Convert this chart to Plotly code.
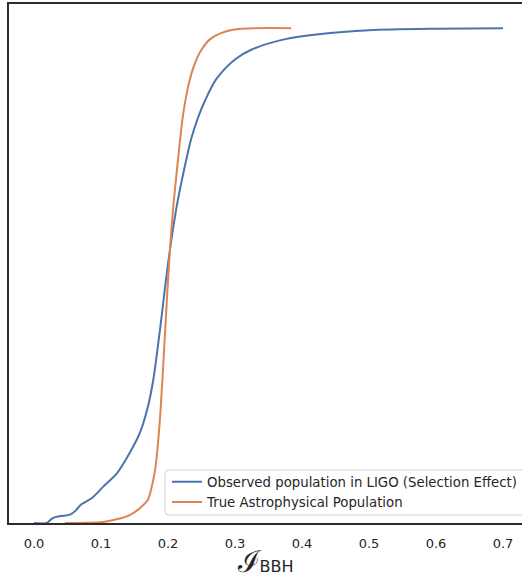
import plotly.graph_objects as go

# Observed population (selection effect) cumulative distribution
obs_x = [0.0, 0.019, 0.028, 0.040, 0.054, 0.063, 0.069, 0.087, 0.103, 0.124, 0.143,
         0.158, 0.170, 0.178, 0.188, 0.197, 0.203, 0.213, 0.225, 0.235, 0.245, 0.255,
         0.272, 0.300, 0.325, 0.375, 0.425, 0.5, 0.6, 0.7]
obs_y = [0.0, 0.0, 0.010, 0.014, 0.017, 0.026, 0.036, 0.051, 0.073, 0.101, 0.142,
         0.182, 0.235, 0.289, 0.39, 0.492, 0.553, 0.64, 0.72, 0.778, 0.82, 0.853,
         0.897, 0.937, 0.957, 0.978, 0.988, 0.996, 0.999, 1.0]

# True astrophysical population cumulative distribution
true_x = [0.046, 0.080, 0.103, 0.125, 0.143, 0.158, 0.170, 0.176, 0.181, 0.185, 0.189,
          0.194, 0.200, 0.207, 0.215, 0.222, 0.229, 0.237, 0.248, 0.263, 0.285, 0.310, 0.384]
true_y = [0.0, 0.0005, 0.002, 0.008, 0.016, 0.030, 0.047, 0.075, 0.11, 0.16, 0.23,
          0.345, 0.49, 0.625, 0.735, 0.82, 0.875, 0.917, 0.952, 0.978, 0.993, 0.999, 1.0]

tick_vals = [0.0, 0.1, 0.2, 0.3, 0.4, 0.5, 0.6, 0.7]
tick_text = ["0.0", "0.1", "0.2", "0.3", "0.4", "0.5", "0.6", "0.7"]

# plot area in pixels (for placing the legend frame)
L, T, W, H = 9, 4, 513, 519


def px_x(p):
    return (p - L) / W


def px_y(p):
    return (T + H - p) / H


fig = go.Figure()
fig.add_trace(go.Scatter(x=obs_x, y=obs_y, mode="lines",
                         name="Observed population in LIGO (Selection Effect)",
                         line=dict(color="#4C72B0", width=2, shape="spline", smoothing=0.8)))
fig.add_trace(go.Scatter(x=true_x, y=true_y, mode="lines",
                         name="True Astrophysical Population",
                         line=dict(color="#DD8452", width=2, shape="spline", smoothing=0.8)))

# legend frame (rounded, light grey)
x0, x1, y0, y1, r = 165, 540, 470, 515, 4
path = (f"M {px_x(x0 + r)} {px_y(y0)} L {px_x(x1)} {px_y(y0)} L {px_x(x1)} {px_y(y1)} "
        f"L {px_x(x0 + r)} {px_y(y1)} Q {px_x(x0)} {px_y(y1)} {px_x(x0)} {px_y(y1 - r)} "
        f"L {px_x(x0)} {px_y(y0 + r)} Q {px_x(x0)} {px_y(y0)} {px_x(x0 + r)} {px_y(y0)} Z")
fig.add_shape(type="path", path=path, xref="paper", yref="paper",
              line=dict(color="#d4d4d4", width=1), fillcolor="white", layer="above")

fig.update_layout(
    width=522, height=579,
    margin=dict(l=L, r=0, t=T, b=579 - T - H, autoexpand=False),
    paper_bgcolor="white", plot_bgcolor="white",
    font=dict(family="DejaVu Sans, sans-serif", color="#262626", size=13),
    showlegend=True,
    legend=dict(x=px_x(167), y=px_y(517.5), xanchor="left", yanchor="bottom",
                bgcolor="rgba(0,0,0,0)", borderwidth=0,
                font=dict(size=13.3, color="#262626"), tracegroupgap=0),
    xaxis=dict(range=[-0.0373, 0.7284], tickvals=tick_vals, ticktext=tick_text,
               showgrid=False, zeroline=False, showline=True, linecolor="#2b2b2b",
               linewidth=2, mirror=True, ticks="outside", ticklen=7,
               tickcolor="rgba(0,0,0,0)",
               title=dict(text="<span style='font-size:30px;font-family:DejaVu Serif'>ℐ</span>BBH",
                          font=dict(size=16, family="DejaVu Sans, sans-serif"),
                          standoff=13)),
    yaxis=dict(range=[0, 1.049], showticklabels=False, showgrid=False, zeroline=False,
               showline=True, linecolor="#2b2b2b", linewidth=2, mirror=False, ticks=""),
)

fig.write_html("out.html", config={"displayModeBar": False},
               post_script="document.body.style.margin='0px';")
